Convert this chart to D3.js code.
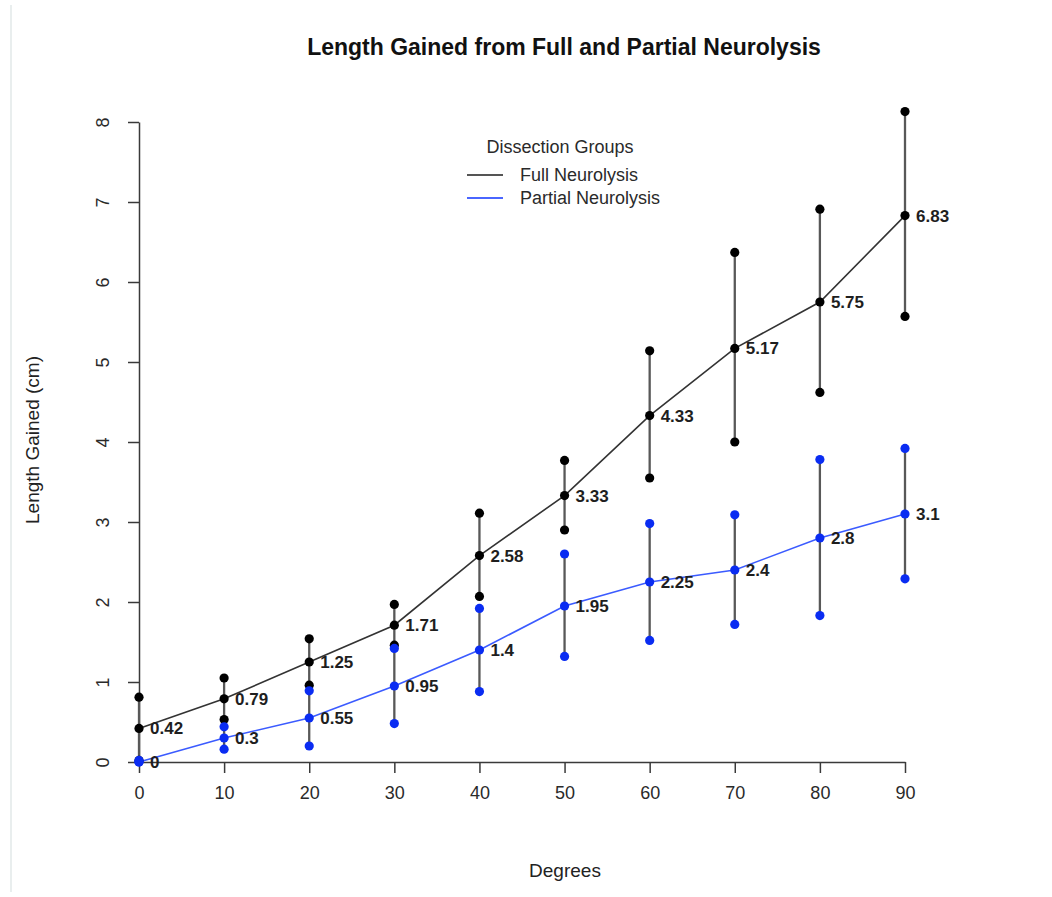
<!DOCTYPE html>
<html>
<head>
<meta charset="utf-8">
<script src="https://cdn.jsdelivr.net/npm/d3@7"></script>
<style>
  body { margin: 0; background: #fff; }
  svg { display: block; font-family: "Liberation Sans", Arial, Helvetica, sans-serif; }
</style>
</head>
<body>
<div id="canvas"></div>
<script>
// data
var degrees = [0, 10, 20, 30, 40, 50, 60, 70, 80, 90];
var fullMean = [0.42, 0.79, 1.25, 1.71, 2.58, 3.33, 4.33, 5.17, 5.75, 6.83];
var fullLow = [0.02, 0.53, 0.96, 1.46, 2.07, 2.90, 3.55, 4.00, 4.62, 5.57];
var fullHigh = [0.81, 1.05, 1.54, 1.97, 3.11, 3.77, 5.14, 6.37, 6.91, 8.13];
var partialMean = [0, 0.3, 0.55, 0.95, 1.4, 1.95, 2.25, 2.4, 2.8, 3.1];
var partialLow = [0, 0.16, 0.20, 0.48, 0.88, 1.32, 1.52, 1.72, 1.83, 2.29];
var partialHigh = [0.02, 0.44, 0.89, 1.42, 1.92, 2.60, 2.98, 3.09, 3.78, 3.92];
var xTicks = [0, 10, 20, 30, 40, 50, 60, 70, 80, 90];
var yTicks = [0, 1, 2, 3, 4, 5, 6, 7, 8];
var groupNames = ["Full Neurolysis", "Partial Neurolysis"];

var winWidth = 1052, winHeight = 897;

var svg = d3.select("#canvas").append("svg")
  .attr("width", winWidth)
  .attr("height", winHeight);

// faint frame edge on the left of the scan
svg.append("line")
  .attr("x1", 11).attr("x2", 11)
  .attr("y1", 5).attr("y2", 892)
  .attr("stroke", "#e2e8e8").attr("stroke-width", 1.5);

var x = d3.scaleLinear().domain([0, 90]).range([139, 905]);
var y = d3.scaleLinear().domain([0, 8]).range([762, 122]);

var axisColor = "#3a3a3a";
var full = degrees.map(function(d, i) {
  return {x: d, m: fullMean[i], lo: fullLow[i], hi: fullHigh[i]};
});
var partial = degrees.map(function(d, i) {
  return {x: d, m: partialMean[i], lo: partialLow[i], hi: partialHigh[i]};
});

// axes
var xAxis = d3.axisBottom(x).tickValues(xTicks).tickSize(11).tickPadding(10).tickSizeOuter(0);
var yAxis = d3.axisLeft(y).tickValues(yTicks).tickSize(11).tickPadding(10).tickSizeOuter(0);

var gX = svg.append("g")
  .attr("transform", "translate(0," + y(0) + ")")
  .call(xAxis);
var gY = svg.append("g")
  .attr("transform", "translate(" + x(0) + ",0)")
  .call(yAxis);

[gX, gY].forEach(function(g) {
  g.attr("font-size", 18).attr("font-family", null);
  g.select(".domain").attr("stroke", axisColor).attr("stroke-width", 1.5);
  g.selectAll(".tick line").attr("stroke", axisColor).attr("stroke-width", 1.5);
  g.selectAll(".tick text").attr("fill", "#2a2a2a");
});
gX.selectAll(".tick text").attr("dy", "0.9em");
gY.selectAll(".tick text")
  .attr("x", null)
  .attr("text-anchor", "middle")
  .attr("transform", "translate(-36,0) rotate(-90)")
  .attr("dy", "0.35em");

// whiskers (min to max)
function whiskers(data) {
  svg.append("g").selectAll("line")
    .data(data)
    .enter().append("line")
    .attr("x1", function(d) { return x(d.x); })
    .attr("x2", function(d) { return x(d.x); })
    .attr("y1", function(d) { return y(d.lo); })
    .attr("y2", function(d) { return y(d.hi); })
    .attr("stroke", "#585858")
    .attr("stroke-width", 2.3);
}
whiskers(full);
whiskers(partial);

var line = d3.line()
  .x(function(d) { return x(d.x); })
  .y(function(d) { return y(d.m); });

svg.append("path").datum(full)
  .attr("d", line).attr("fill", "none")
  .attr("stroke", "#333").attr("stroke-width", 1.6);
svg.append("path").datum(partial)
  .attr("d", line).attr("fill", "none")
  .attr("stroke", "#3b5bff").attr("stroke-width", 1.6);

function dots(data, color) {
  var pts = [];
  data.forEach(function(d) {
    pts.push({x: d.x, v: d.lo}, {x: d.x, v: d.hi}, {x: d.x, v: d.m});
  });
  svg.append("g").selectAll("circle")
    .data(pts)
    .enter().append("circle")
    .attr("cx", function(d) { return x(d.x); })
    .attr("cy", function(d) { return y(d.v); })
    .attr("r", 4.6)
    .attr("fill", color);
}
dots(full, "#000");
dots(partial, "#0a2cf2");

// value labels next to the means
function labels(data) {
  svg.append("g").selectAll("text")
    .data(data)
    .enter().append("text")
    .attr("x", function(d) { return x(d.x) + 11; })
    .attr("y", function(d) { return y(d.m); })
    .attr("dy", "0.35em")
    .attr("fill", "#1e1e1e")
    .style("font-size", "17px")
    .style("font-weight", "bold")
    .text(function(d) { return String(d.m); });
}
labels(full);
labels(partial);

// title and axis titles
svg.append("text")
  .attr("x", 564).attr("y", 55)
  .attr("text-anchor", "middle")
  .style("font-size", "23px").style("font-weight", "bold")
  .attr("fill", "#111")
  .text("Length Gained from Full and Partial Neurolysis");

svg.append("text")
  .attr("x", 565).attr("y", 877)
  .attr("text-anchor", "middle")
  .style("font-size", "19px")
  .attr("fill", "#222")
  .text("Degrees");

svg.append("text")
  .attr("transform", "translate(39,440) rotate(-90)")
  .attr("text-anchor", "middle")
  .style("font-size", "19px")
  .attr("fill", "#222")
  .text("Length Gained (cm)");

// legend
var legend = svg.append("g");
legend.append("text")
  .attr("x", 560).attr("y", 153)
  .attr("text-anchor", "middle")
  .style("font-size", "18px").attr("fill", "#2a2a2a")
  .text("Dissection Groups");
var legendColors = ["#555", "#4a66ff"];
groupNames.forEach(function(name, i) {
  var ly = 175 + i * 23;
  legend.append("line")
    .attr("x1", 467).attr("x2", 503)
    .attr("y1", ly).attr("y2", ly)
    .attr("stroke", legendColors[i]).attr("stroke-width", 2);
  legend.append("text")
    .attr("x", 520).attr("y", ly)
    .attr("dy", "0.35em")
    .style("font-size", "18px").attr("fill", "#2a2a2a")
    .text(name);
});
</script>
</body>
</html>
